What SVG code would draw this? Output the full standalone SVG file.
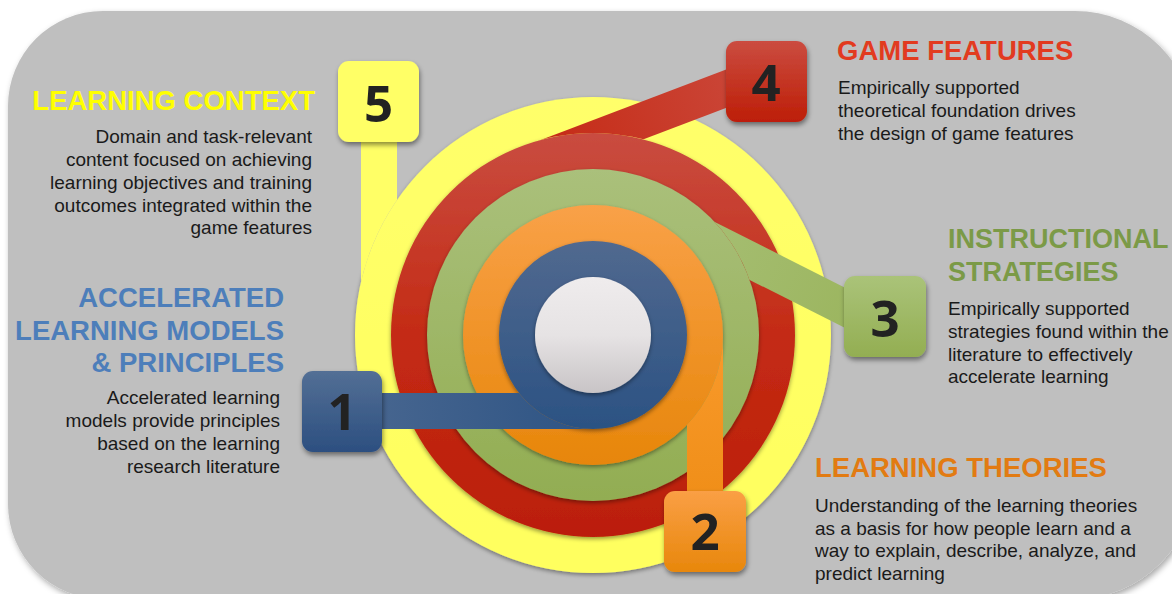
<svg xmlns="http://www.w3.org/2000/svg" width="1172" height="594" viewBox="0 0 1172 594">
  <defs>
    <style>
      .head { font-family: "Liberation Sans", Arial, sans-serif; font-weight: 700; font-size: 27.5px; }
      .body { font-family: "Liberation Sans", Arial, sans-serif; font-size: 19px; fill: #1a1a1a; }
      .num { font-family: "Open Sans", "DejaVu Sans", sans-serif; font-weight: 700; font-size: 51px; fill: #222; text-anchor: middle; }
      .band { fill: none; stroke-width: 36; stroke-linecap: butt; }
    </style>

    <filter id="panelShadow" x="-5%" y="-5%" width="110%" height="115%">
      <feDropShadow dx="2" dy="3" stdDeviation="3" flood-color="#000" flood-opacity="0.35"/>
    </filter>
    <filter id="discShadow" x="-10%" y="-10%" width="120%" height="125%">
      <feDropShadow dx="0" dy="2" stdDeviation="2" flood-color="#000" flood-opacity="0.4"/>
    </filter>
    <filter id="boxShadow" x="-20%" y="-20%" width="145%" height="145%">
      <feDropShadow dx="1" dy="3" stdDeviation="2.5" flood-color="#000" flood-opacity="0.45"/>
    </filter>

    <!-- ring fills -->
    <linearGradient id="gYellow" x1="0" y1="0" x2="0" y2="1">
      <stop offset="0" stop-color="#FFFF6A"/>
      <stop offset="1" stop-color="#FFFF5E"/>
    </linearGradient>
    <linearGradient id="gRed" x1="0" y1="0" x2="0" y2="1">
      <stop offset="0" stop-color="#C94C40"/>
      <stop offset="0.5" stop-color="#C42B15"/>
      <stop offset="1" stop-color="#BB1E07"/>
    </linearGradient>
    <linearGradient id="gGreen" x1="0" y1="0" x2="0" y2="1">
      <stop offset="0" stop-color="#AAC07B"/>
      <stop offset="1" stop-color="#92AD52"/>
    </linearGradient>
    <linearGradient id="gOrange" x1="0" y1="0" x2="0" y2="1">
      <stop offset="0" stop-color="#F9A148"/>
      <stop offset="1" stop-color="#E7860A"/>
    </linearGradient>
    <linearGradient id="gBlue" x1="0" y1="0" x2="0" y2="1">
      <stop offset="0" stop-color="#51698F"/>
      <stop offset="1" stop-color="#2B5283"/>
    </linearGradient>
    <linearGradient id="gWhite" x1="0" y1="0" x2="0" y2="1">
      <stop offset="0" stop-color="#EFECED"/>
      <stop offset="0.5" stop-color="#E6E3E4"/>
      <stop offset="1" stop-color="#C8C4C6"/>
    </linearGradient>

    <!-- band fills -->
    <linearGradient id="bRed" gradientUnits="userSpaceOnUse" x1="528" y1="164" x2="770" y2="72">
      <stop offset="0" stop-color="#C52812"/>
      <stop offset="1" stop-color="#CB4A3D"/>
    </linearGradient>
    <linearGradient id="bGreen" gradientUnits="userSpaceOnUse" x1="655" y1="212" x2="885" y2="328">
      <stop offset="0" stop-color="#A8C077"/>
      <stop offset="1" stop-color="#9AB45C"/>
    </linearGradient>
    <linearGradient id="bOrange" gradientUnits="userSpaceOnUse" x1="0" y1="335" x2="0" y2="531">
      <stop offset="0" stop-color="#F99A2C"/>
      <stop offset="1" stop-color="#EE8C14"/>
    </linearGradient>
    <linearGradient id="bBlue" gradientUnits="userSpaceOnUse" x1="340" y1="0" x2="593" y2="0">
      <stop offset="0" stop-color="#4A6891"/>
      <stop offset="1" stop-color="#2E5484"/>
    </linearGradient>

    <!-- box fills -->
    <linearGradient id="xRed" x1="0" y1="0" x2="0" y2="1">
      <stop offset="0" stop-color="#CB4C40"/>
      <stop offset="1" stop-color="#BD1E07"/>
    </linearGradient>
    <linearGradient id="xGreen" x1="0" y1="0" x2="0" y2="1">
      <stop offset="0" stop-color="#AAC379"/>
      <stop offset="1" stop-color="#93AE52"/>
    </linearGradient>
    <linearGradient id="xOrange" x1="0" y1="0" x2="0" y2="1">
      <stop offset="0" stop-color="#FA9F45"/>
      <stop offset="1" stop-color="#E8870B"/>
    </linearGradient>
    <linearGradient id="xBlue" x1="0" y1="0" x2="0" y2="1">
      <stop offset="0" stop-color="#536F95"/>
      <stop offset="1" stop-color="#2C4F80"/>
    </linearGradient>

    <!-- each band only shows outside the disc it feeds -->
    <clipPath id="outY"><path clip-rule="evenodd" d="M0 0H1172V594H0Z M355 335a238 238 0 1 0 476 0a238 238 0 1 0 -476 0Z"/></clipPath>
    <clipPath id="outR"><path clip-rule="evenodd" d="M0 0H1172V594H0Z M391 335a202 202 0 1 0 404 0a202 202 0 1 0 -404 0Z"/></clipPath>
    <clipPath id="outG"><path clip-rule="evenodd" d="M0 0H1172V594H0Z M427 335a166 166 0 1 0 332 0a166 166 0 1 0 -332 0Z"/></clipPath>
    <clipPath id="outO"><path clip-rule="evenodd" d="M0 0H1172V594H0Z M463 335a130 130 0 1 0 260 0a130 130 0 1 0 -260 0Z"/></clipPath>
    <clipPath id="outB"><path clip-rule="evenodd" d="M0 0H1172V594H0Z M499 335a94 94 0 1 0 188 0a94 94 0 1 0 -188 0Z"/></clipPath>
  </defs>

  <rect width="1172" height="594" fill="#fff"/>

  <!-- grey panel -->
  <path id="panel" filter="url(#panelShadow)" fill="#BFBFBF"
        d="M103 11H1075A120 120 0 0 1 1195 131V479A120 120 0 0 1 1075 599H103A95 95 0 0 1 8 504V106A95 95 0 0 1 103 11Z"/>

  <!-- concentric rings -->
  <g id="rings">
    <circle id="ring-context" cx="593" cy="335" r="238" fill="url(#gYellow)" filter="url(#discShadow)"/>
    <circle id="ring-game" cx="593" cy="335" r="202" fill="url(#gRed)" filter="url(#discShadow)"/>
    <circle id="ring-strategies" cx="593" cy="335" r="166" fill="url(#gGreen)" filter="url(#discShadow)"/>
    <circle id="ring-theories" cx="593" cy="335" r="130" fill="url(#gOrange)" filter="url(#discShadow)"/>
    <circle id="ring-models" cx="593" cy="335" r="94" fill="url(#gBlue)" filter="url(#discShadow)"/>
    <circle id="core" cx="593" cy="335" r="58" fill="url(#gWhite)" filter="url(#discShadow)"/>
  </g>

  <!-- bands linking each numbered tab to its ring -->
  <g id="connectors">
    <path class="band" clip-path="url(#outY)" stroke="#FFFF66" d="M379 130V335"/>
    <path class="band" clip-path="url(#outR)" stroke="url(#bRed)" d="M528 164L770 72"/>
    <path class="band" clip-path="url(#outG)" stroke="url(#bGreen)" d="M655 212L885 328"/>
    <path class="band" clip-path="url(#outO)" stroke="url(#bOrange)" d="M705 335V531"/>
    <path class="band" clip-path="url(#outB)" stroke="url(#bBlue)" d="M340 411H593"/>
  </g>

  <!-- 5: learning context -->
  <g id="node-5">
    <rect x="338" y="61" width="81" height="81" rx="11" fill="#FFFF66" filter="url(#boxShadow)"/>
    <text class="num" x="378.5" y="122">5</text>
    <text class="head" x="315" y="110" text-anchor="end" fill="#FFFF00">LEARNING CONTEXT</text>
    <g class="body" text-anchor="end">
      <text x="312" y="143">Domain and task-relevant</text>
      <text x="312" y="166">content focused on achieving</text>
      <text x="312" y="188.5">learning objectives and training</text>
      <text x="312" y="211.5">outcomes integrated within the</text>
      <text x="312" y="234">game features</text>
    </g>
  </g>

  <!-- 4: game features -->
  <g id="node-4">
    <rect x="726" y="41" width="81" height="81" rx="11" fill="url(#xRed)" filter="url(#boxShadow)"/>
    <text class="num" x="766" y="101">4</text>
    <text class="head" x="837" y="60" fill="#E23B1F">GAME FEATURES</text>
    <g class="body">
      <text x="838" y="94">Empirically supported</text>
      <text x="838" y="117">theoretical foundation drives</text>
      <text x="838" y="140">the design of game features</text>
    </g>
  </g>

  <!-- 3: instructional strategies -->
  <g id="node-3">
    <rect x="844" y="276" width="82" height="81" rx="11" fill="url(#xGreen)" filter="url(#boxShadow)"/>
    <text class="num" x="885" y="337">3</text>
    <text class="head" x="948" y="248" fill="#7B9A47" style="font-size:27px">INSTRUCTIONAL</text>
    <text class="head" x="948" y="281" fill="#7B9A47" style="font-size:27px">STRATEGIES</text>
    <g class="body">
      <text x="948" y="315">Empirically supported</text>
      <text x="948" y="338">strategies found within the</text>
      <text x="948" y="360.5">literature to effectively</text>
      <text x="948" y="383">accelerate learning</text>
    </g>
  </g>

  <!-- 2: learning theories -->
  <g id="node-2">
    <rect x="664" y="491" width="82" height="81" rx="11" fill="url(#xOrange)" filter="url(#boxShadow)"/>
    <text class="num" x="705" y="550">2</text>
    <text class="head" x="815" y="477" fill="#E27B12">LEARNING THEORIES</text>
    <g class="body">
      <text x="815" y="512">Understanding of the learning theories</text>
      <text x="815" y="534.5">as a basis for how people learn and a</text>
      <text x="815" y="557">way to explain, describe, analyze, and</text>
      <text x="815" y="579.5">predict learning</text>
    </g>
  </g>

  <!-- 1: accelerated learning models -->
  <g id="node-1">
    <rect x="302" y="371" width="80" height="81" rx="11" fill="url(#xBlue)" filter="url(#boxShadow)"/>
    <text class="num" x="342" y="430">1</text>
    <g class="head" text-anchor="end" fill="#4D7EBA">
      <text x="284" y="307">ACCELERATED</text>
      <text x="284" y="339.5">LEARNING MODELS</text>
      <text x="284" y="372">&amp; PRINCIPLES</text>
    </g>
    <g class="body" text-anchor="end">
      <text x="280" y="404">Accelerated learning</text>
      <text x="280" y="427">models provide principles</text>
      <text x="280" y="450">based on the learning</text>
      <text x="280" y="473">research literature</text>
    </g>
  </g>
</svg>
